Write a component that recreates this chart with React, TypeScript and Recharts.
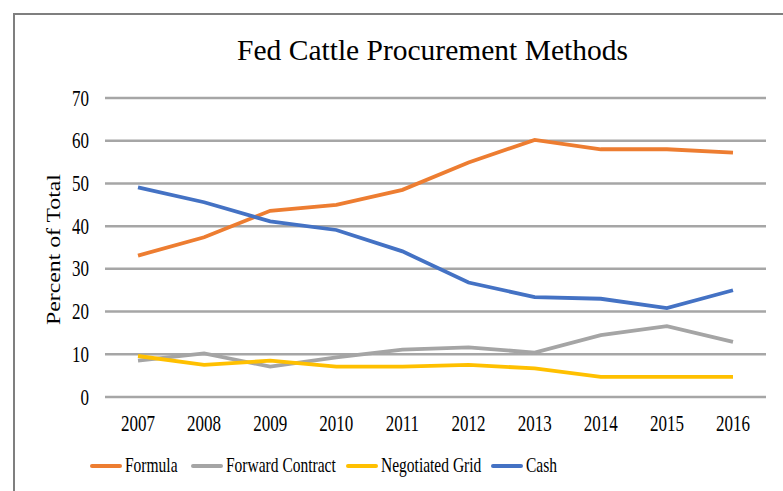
import React from 'react';
import { LineChart, Line, XAxis, YAxis, CartesianGrid, Legend } from 'recharts';

const years = ['2007', '2008', '2009', '2010', '2011', '2012', '2013', '2014', '2015', '2016'];
const formula = [33.1, 37.4, 43.6, 45.0, 48.5, 54.9, 60.2, 58.0, 58.0, 57.2];
const forwardContract = [8.5, 10.2, 7.1, 9.3, 11.1, 11.6, 10.4, 14.5, 16.6, 12.9];
const negotiatedGrid = [9.6, 7.5, 8.5, 7.1, 7.1, 7.5, 6.7, 4.7, 4.7, 4.7];
const cash = [49.1, 45.6, 41.1, 39.1, 34.1, 26.8, 23.4, 23.0, 20.8, 25.0];
const yTicks = [0, 10, 20, 30, 40, 50, 60, 70];

const seriesNames = ['Formula', 'Forward Contract', 'Negotiated Grid', 'Cash'];
const seriesColors = ['#ED7D31', '#A5A5A5', '#FFC000', '#4472C4'];
const seriesValues = [formula, forwardContract, negotiatedGrid, cash];

const data = years.map((y, i) => {
  const row: Record<string, string | number> = { year: y };
  seriesNames.forEach((n, k) => {
    row[n] = seriesValues[k][i];
  });
  return row;
});

const FONT = '"Liberation Serif", "Times New Roman", serif';
const STRETCH = 1.3;
const legendLeft = [0, 101, 256, 401];

const XTick = (props: any) => {
  const { x, y, payload } = props;
  return (
    <text
      transform={`translate(${x},${y + 28}) scale(1,${STRETCH})`}
      textAnchor="middle"
      fontFamily={FONT}
      fontSize={17}
      fill="#000"
    >
      {payload.value}
    </text>
  );
};

const YTick = (props: any) => {
  const { x, y, payload } = props;
  return (
    <text
      transform={`translate(${x},${y + 7.5}) scale(1,${STRETCH})`}
      textAnchor="end"
      fontFamily={FONT}
      fontSize={17}
      fill="#000"
    >
      {payload.value}
    </text>
  );
};

const YLabel = (props: any) => {
  const vb = props.viewBox || { x: 0, y: 98, width: 105, height: 299 };
  const cy = vb.y + vb.height / 2 + 2;
  return (
    <text
      transform={`translate(60,${cy}) rotate(-90) scale(1.25,1)`}
      textAnchor="middle"
      fontFamily={FONT}
      fontSize={19}
      fill="#000"
    >
      Percent of Total
    </text>
  );
};

const LegendContent = () => (
  <div style={{ position: 'relative', height: 24, fontFamily: FONT, fontSize: 15.5, color: '#000' }}>
    {seriesNames.map((n, k) => (
      <div
        key={n}
        style={{ position: 'absolute', left: legendLeft[k], top: 0, height: 24, display: 'flex', alignItems: 'center', whiteSpace: 'nowrap' }}
      >
        <div style={{ width: 32, height: 4.5, borderRadius: 2, background: seriesColors[k], marginRight: 3 }} />
        <span style={{ display: 'inline-block', transform: `scale(1,${STRETCH})`, transformOrigin: 'left center' }}>{n}</span>
      </div>
    ))}
  </div>
);

export default function App() {
  return (
    <div style={{ position: 'absolute', left: 0, top: 0, width: 783, height: 491, background: '#fff', overflow: 'hidden' }}>
      <div
        style={{
          position: 'absolute',
          left: 13,
          top: 13,
          width: 800,
          height: 500,
          borderLeft: '2px solid #7F7F7F',
          borderTop: '2px solid #7F7F7F',
        }}
      />
      <div
        style={{
          position: 'absolute',
          left: 0,
          width: 865,
          top: 32,
          textAlign: 'center',
          fontFamily: FONT,
          fontSize: 29.5,
          color: '#000',
          lineHeight: '36px',
        }}
      >
        Fed Cattle Procurement Methods
      </div>
      <div style={{ position: 'absolute', left: 0, top: 0 }}>
        <LineChart width={783} height={491} data={data} margin={{ top: 98, right: 17, bottom: 30, left: 0 }}>
          <CartesianGrid vertical={false} stroke="#A6A6A6" strokeWidth={2.5} />
          <XAxis
            dataKey="year"
            axisLine={false}
            tickLine={false}
            height={40}
            padding={{ left: 33, right: 33 }}
            tickMargin={0}
            interval={0}
            tick={<XTick />}
          />
          <YAxis
            domain={[0, 70]}
            ticks={yTicks}
            axisLine={false}
            tickLine={false}
            width={105}
            tickMargin={10}
            tick={<YTick />}
            label={(p: any) => <YLabel {...p} />}
          />
          <Legend
            verticalAlign="bottom"
            content={<LegendContent />}
            wrapperStyle={{ top: 454, left: 90, width: 690, height: 24 }}
          />
          {seriesNames.map((n, k) => (
            <Line
              key={n}
              dataKey={n}
              type="linear"
              stroke={seriesColors[k]}
              strokeWidth={3.8}
              dot={false}
              isAnimationActive={false}
            />
          ))}
        </LineChart>
      </div>
    </div>
  );
}
